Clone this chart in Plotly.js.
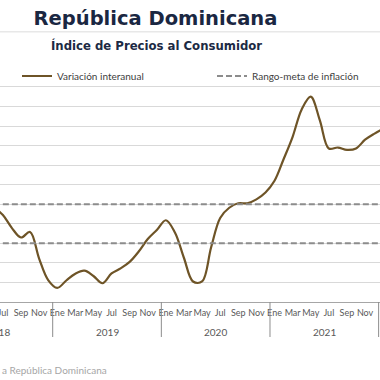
<!DOCTYPE html>
<html><head><meta charset="utf-8">
<script src="https://cdn.plot.ly/plotly-3.0.1.min.js"></script>
<style>html,body{margin:0;padding:0;background:#fff;}#chart{width:380px;height:380px;}</style>
</head><body><div id="chart"></div>
<script>
// Periods (year-month), Jun 2018 .. Jan 2022
const periodos = ['2018-06','2018-07','2018-08','2018-09','2018-10','2018-11','2018-12',
  '2019-01','2019-02','2019-03','2019-04','2019-05','2019-06','2019-07','2019-08','2019-09','2019-10','2019-11','2019-12',
  '2020-01','2020-02','2020-03','2020-04','2020-05','2020-06','2020-07','2020-08','2020-09','2020-10','2020-11','2020-12',
  '2021-01','2021-02','2021-03','2021-04','2021-05','2021-06','2021-07','2021-08','2021-09','2021-10','2021-11','2021-12',
  '2022-01'];
// Variación interanual del IPC (%)
const inflacion = [4.85, 4.45, 3.78, 3.30, 3.58, 2.22, 1.12,
  0.72, 1.10, 1.45, 1.60, 1.33, 0.96, 1.46, 1.72, 2.05, 2.58, 3.22, 3.68,
  4.18, 3.55, 2.25, 1.05, 1.05, 2.80, 4.30, 4.82, 5.05, 5.05, 5.25, 5.60,
  6.20, 7.30, 8.45, 9.85, 10.50, 9.30, 7.85, 7.90, 7.78, 7.85, 8.30, 8.60,
  8.85];
// Rango-meta de inflación (4% ± 1%)
const metaInferior = periodos.map(() => 3);
const metaSuperior = periodos.map(() => 5);
// Tick labels
const mesesEtiqueta = ['Ene','','Mar','','May','','Jul','','Sep','','Nov',''];
const anios = [2018, 2019, 2020, 2021];

const idx = p => { const [y, m] = p.split('-').map(Number); return (y - 2018) * 12 + (m - 1); };
const xs = periodos.map(idx);

const xr = [5.68, 47.65];
const yr = [0, 11.2];

const tickvals = [], ticktext = [];
xs.forEach(v => { const lab = mesesEtiqueta[((v % 12) + 12) % 12]; if (lab) { tickvals.push(v); ticktext.push(lab); } });

const toPaperX = v => (v - xr[0]) / (xr[1] - xr[0]);
const plotH = 380 - 83 - 78;
const pxToPaperY = py => (302 - py) / plotH;

const annotations = anios.map(a => ({
  text: String(a), xref: 'paper', yref: 'paper', x: toPaperX((a - 2018) * 12 + 5.5), y: pxToPaperY(331.5),
  xanchor: 'center', yanchor: 'middle', showarrow: false, font: {family: 'Lato', size: 10, color: '#595959'}
}));
annotations.push({
  text: 'Índice de Precios al Consumidor', xref: 'paper', yref: 'paper', x: 156 / 380, y: pxToPaperY(45.5),
  xanchor: 'center', yanchor: 'middle', showarrow: false,
  font: {family: 'DejaVu Sans', size: 11.7, color: '#1c2a44', weight: 'bold'}
});
annotations.push({
  text: 'a República Dominicana', xref: 'paper', yref: 'paper', x: 0, y: pxToPaperY(370),
  xanchor: 'left', yanchor: 'middle', showarrow: false, font: {family: 'Lato', size: 10, color: '#a6a6a6'}
});

const shapes = anios.map(a => ({
  type: 'line', xref: 'x', yref: 'paper', x0: (a - 2018) * 12 + 11.5, x1: (a - 2018) * 12 + 11.5,
  y0: 0, y1: pxToPaperY(337), line: {color: '#8c8c8c', width: 1}
}));
shapes.push({type: 'line', xref: 'paper', yref: 'paper', x0: 0, x1: 1, y0: pxToPaperY(31.7), y1: pxToPaperY(31.7),
  line: {color: '#e8e8e8', width: 1.5}});

const traces = [
  {x: xs, y: inflacion, type: 'scatter', mode: 'lines', name: 'Variación interanual', legend: 'legend',
   line: {color: '#6e5427', width: 2.2, shape: 'spline', smoothing: 1}},
  {x: xs, y: metaSuperior, type: 'scatter', mode: 'lines', name: 'Rango-meta de inflación', legend: 'legend2',
   line: {color: '#8c8c8c', width: 2, dash: '6px,3px'}},
  {x: xs, y: metaInferior, type: 'scatter', mode: 'lines', name: 'Rango-meta de inflación', showlegend: false,
   line: {color: '#8c8c8c', width: 2, dash: '6px,3px'}}
];

const legendStyle = {orientation: 'h', xanchor: 'left', y: pxToPaperY(76), yanchor: 'middle',
  font: {family: 'Lato', size: 10, color: '#404040'}, bgcolor: 'rgba(0,0,0,0)'};

const layout = {
  width: 380, height: 380, margin: {l: 0, r: 0, t: 83, b: 78},
  paper_bgcolor: '#ffffff', plot_bgcolor: '#ffffff',
  title: {text: 'República Dominicana', font: {family: 'DejaVu Sans', size: 19.5, color: '#1a2742', weight: 'bold'},
    x: 155.5 / 380, xanchor: 'center', xref: 'container', y: 1 - 18.5 / 380, yanchor: 'middle', yref: 'container'},
  xaxis: {range: xr, tickmode: 'array', tickvals: tickvals, ticktext: ticktext, showgrid: false, zeroline: false,
    showline: true, linecolor: '#a6a6a6', linewidth: 1, ticks: '', tickangle: 0, ticklabeloverflow: 'allow',
    ticklabelstandoff: 2,
    tickfont: {family: 'Lato', size: 9, color: '#595959'}, fixedrange: true},
  yaxis: {range: yr, tick0: 0, dtick: 1, showgrid: true, gridcolor: '#d9d9d9', gridwidth: 1, zeroline: false,
    showticklabels: false, showline: false, fixedrange: true},
  showlegend: true,
  legend: Object.assign({x: 17 / 380}, legendStyle),
  legend2: Object.assign({x: 212 / 380}, legendStyle),
  annotations: annotations, shapes: shapes
};

Plotly.newPlot('chart', traces, layout, {displayModeBar: false, staticPlot: true});
</script></body></html>
